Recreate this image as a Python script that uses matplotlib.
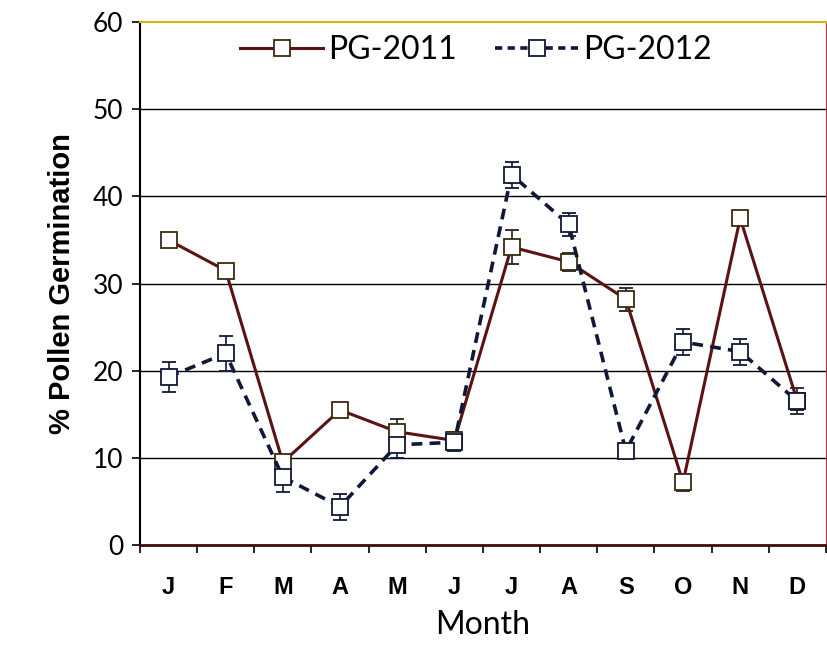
import numpy as np
import matplotlib.pyplot as plt
from matplotlib.lines import Line2D

months = ['J', 'F', 'M', 'A', 'M', 'J', 'J', 'A', 'S', 'O', 'N', 'D']
pg_2011 = [35.0, 31.5, 9.5, 15.5, 13.0, 12.0, 34.2, 32.5, 28.2, 7.2, 37.5, 16.5]
err_2011 = [0.7, 0.5, 0.6, 0.5, 1.5, 1.0, 2.0, 1.0, 1.3, 1.0, 0.5, 1.5]
pg_2012 = [19.3, 22.0, 7.8, 4.4, 11.5, 11.8, 42.5, 36.8, 10.8, 23.3, 22.2, 16.5]
err_2012 = [1.7, 2.0, 1.7, 1.5, 1.5, 1.0, 1.5, 1.3, 0.5, 1.5, 1.5, 1.0]

x = np.arange(len(months))
c11 = '#5a1212'
c12 = '#101838'

fig = plt.figure(figsize=(8.28, 6.52), dpi=100)
ax = fig.add_axes([0.169, 0.164, 0.8285, 0.802])

# gridlines
for v in [10, 20, 30, 40, 50]:
    ax.axhline(v, color='black', lw=1.0, zorder=1)

ax.errorbar(x, pg_2011, yerr=err_2011, color=c11, lw=2.2, ls='-',
            marker='s', ms=11, mfc='white', mec='#3a2a10', mew=1.3,
            ecolor='#222222', elinewidth=1.2, capsize=5, capthick=1.2, zorder=3)
ax.errorbar(x, pg_2012, yerr=err_2012, color=c12, lw=2.6, ls=(0, (3, 2)),
            marker='s', ms=11, mfc='white', mec=c12, mew=1.3,
            ecolor=c12, elinewidth=1.2, capsize=5, capthick=1.2, zorder=3)

ax.set_xlim(-0.5, 11.5)
ax.set_ylim(0, 60)
ax.set_yticks([0, 10, 20, 30, 40, 50, 60])
ax.set_yticklabels(['0', '10', '20', '30', '40', '50', '60'],
                   fontsize=19, family='Lato')
ax.set_xticks(x)
ax.set_xticklabels(months, fontsize=17, fontweight='bold', family='Liberation Sans')
ax.set_xticks(np.arange(-0.5, 12, 1), minor=True)
ax.tick_params(axis='x', which='major', length=0, pad=22)
ax.tick_params(axis='x', which='minor', length=6, width=1.2, direction='out')
ax.tick_params(axis='y', length=6, width=1.2, direction='out', pad=6)

ax.spines['top'].set_color('#d8b400')
ax.spines['top'].set_linewidth(1.5)
ax.spines['right'].set_color('#aa3030')
ax.spines['bottom'].set_color('#3a0c0c')
ax.spines['bottom'].set_linewidth(2)
ax.spines['left'].set_linewidth(1.5)

ax.set_ylabel('% Pollen Germination', fontsize=21, fontweight='bold',
              family='Liberation Sans', labelpad=12)
ax.set_xlabel('Month', fontsize=23, family='Lato', labelpad=8)

handles = [
    Line2D([], [], color=c11, lw=2.2, marker='s', ms=11, mfc='white', mec='#3a2a10', mew=1.3),
    Line2D([], [], color=c12, lw=2.6, ls=(0, (2, 1.5)), marker='s', ms=11, mfc='white', mec=c12, mew=1.3),
]
ax.legend(handles, ['PG-2011', 'PG-2012'], loc='upper center', ncol=2, frameon=False,
          prop={'family': 'Lato', 'size': 23},
          bbox_to_anchor=(0.49, 1.03), handlelength=2.6, columnspacing=1.2,
          handletextpad=0.15)

fig.savefig('out.png', dpi=100)
